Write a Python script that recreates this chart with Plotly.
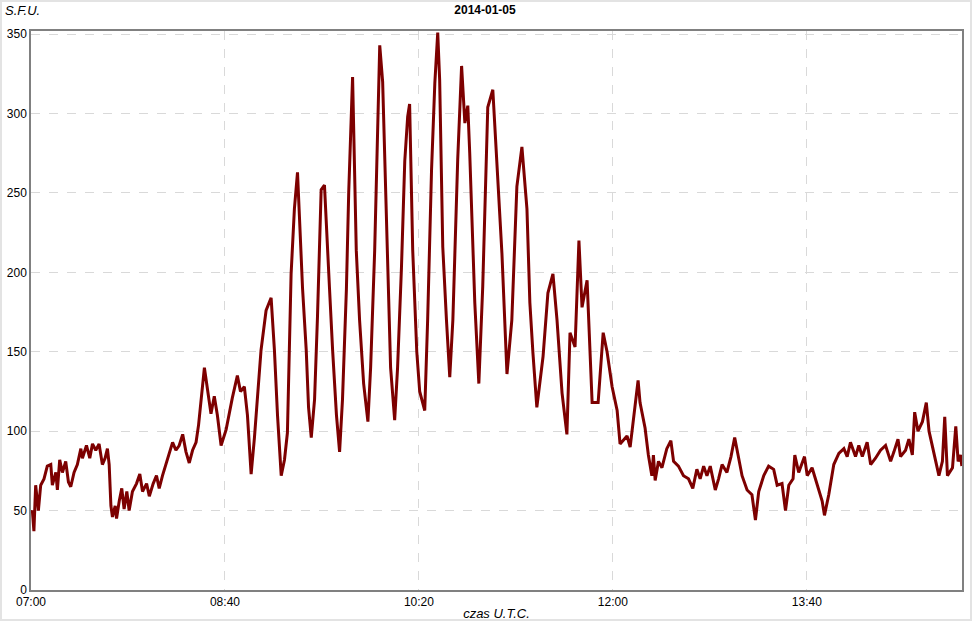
import plotly.graph_objects as go

# minutes after 07:00 UTC and flux in S.F.U.
minutes = [0.0, 0.7, 1.5, 2.4, 3.8, 5.0, 6.7, 8.4, 10.2, 11.0, 12.8, 13.6, 14.8, 16.2, 17.9, 19.3, 20.5,
           22.2, 23.9, 25.7, 26.5, 28.6, 30.3, 31.7, 33.4, 35.1, 36.8, 38.2, 39.4, 40.3, 41.2, 42.0, 43.4,
           44.1, 45.5, 46.8, 48.0, 49.4, 50.6, 52.3, 54.4, 56.1, 57.5, 59.6, 61.0, 63.0, 64.7, 66.1, 67.8,
           69.6, 71.3, 73.0, 74.7, 76.4, 78.2, 79.9, 81.6, 83.3, 85.1, 86.4,
           89.4, 90.9, 92.8, 94.5, 96.1, 98.0, 100.6, 103.8, 106.4, 108.0, 110.0, 111.6, 113.5, 115.2, 118.6,
           121.2, 123.8, 125.5, 127.1, 129.0, 130.7, 132.2, 134.1, 135.8, 137.4, 138.4, 140.0, 141.9, 143.1,
           144.5, 146.2, 147.7, 149.6, 151.3, 152.2, 153.9, 155.5, 157.5, 159.1, 160.6, 162.6, 163.8, 165.8,
           167.7, 169.4, 171.5, 173.7, 175.1, 177.2, 178.7, 179.8, 181.3, 183.4, 185.4, 187.5, 189.0, 191.0,
           192.7, 194.2, 195.2, 196.8, 198.9, 200.4, 203.0, 204.5, 206.5, 208.2, 209.7, 210.7, 212.3, 214.2,
           215.9, 217.5, 220.0, 222.0, 223.7, 225.2, 226.2, 228.8, 230.9, 232.9, 235.5, 238.1, 240.2, 242.8,
           245.4, 247.9, 250.5, 253.1, 255.7, 257.2, 258.8, 260.8, 264.0, 266.5, 269.1, 271.2, 273.8, 276.3,
           277.9, 280.5, 282.5, 284.1, 286.7, 289.3, 292.4, 295.0, 297.0, 299.6, 302.2, 303.7, 307.3, 308.9,
           313.0,
           314.0, 316.6, 318.3, 320.1, 320.9, 321.8, 323.5, 325.3, 327.8, 329.9, 331.3, 333.8, 336.4, 339.0,
           341.2, 343.3, 345.0, 346.8, 348.5, 350.2, 352.8, 354.5, 356.3, 358.8, 360.9, 362.8, 364.3, 366.6,
           369.2, 371.7, 373.5, 375.2, 377.8, 380.3, 382.9, 384.7, 387.2, 389.0, 390.7, 392.9, 393.8, 395.8,
           398.8, 400.2, 402.7, 405.3, 407.9, 409.1, 411.3, 413.9, 416.5, 419.1, 420.8, 422.5, 425.1, 426.8,
           428.6, 431.1, 432.9, 435.4, 438.0, 440.6, 443.2, 444.9, 447.0, 448.3, 450.9, 452.6, 454.4, 455.6,
           457.3, 459.6, 461.6, 463.0, 465.6, 468.1, 469.9, 471.1, 472.5, 475.1, 476.8, 478.0, 479.3, 479.9]

sfu = [48, 50, 37, 66, 50, 66, 70, 78, 79, 66, 74, 63, 82, 74, 81, 68, 65,
       74, 79, 89, 83, 91, 83, 92, 88, 92, 79, 83, 89, 79, 53, 46, 53,
       45, 56, 64, 51, 62, 50, 62, 67, 73, 62, 67, 59, 67, 72, 64, 72,
       79, 85, 93, 88, 91, 98, 87, 80, 88, 93, 104,
       140, 128, 111, 122, 110, 91, 101, 121, 135, 125, 128, 110, 73, 96, 151,
       176, 184, 151, 110, 72, 82, 99, 199, 240, 263, 235, 190, 151, 115,
       96, 120, 172, 252, 255, 235, 190, 151, 110, 87, 120, 189, 250, 323,
       214, 170, 130, 106, 140, 214, 300, 343, 320, 220, 140, 107, 140, 203,
       270, 298, 306, 214, 150, 125, 113, 170, 264, 319, 351, 321, 216, 170,
       134, 170, 271, 330, 294, 305, 275, 181, 130, 191, 304, 315, 271, 212,
       136, 170, 254, 279, 240, 181, 149, 115, 147, 187, 199, 170, 124, 98,
       162, 153, 220, 178, 195, 118, 118, 162, 150, 128, 113, 92, 97, 90,
       132,
       118, 102, 85, 72, 85, 69, 81, 77, 89, 94, 81, 78, 72, 70,
       64, 76, 70, 78, 72, 78, 63, 70, 79, 74, 84, 96, 86, 72,
       63, 60, 44, 62, 72, 78, 76, 66, 67, 50, 66, 70, 85, 74,
       84, 72, 77, 66, 56, 47, 60, 79, 86, 89, 84, 93, 84, 91,
       84, 93, 79, 83, 88, 91, 81, 87, 95, 84, 88, 95, 85, 112,
       100, 106, 118, 100, 85, 72, 81, 109, 72, 77, 103, 81, 85, 78]

tick_minutes = [0, 100, 200, 300, 400]
tick_labels = ["07:00", "08:40", "10:20", "12:00", "13:40"]
y_ticks = [0, 50, 100, 150, 200, 250, 300, 350]

fig = go.Figure()
fig.add_trace(go.Scatter(x=minutes, y=sfu, mode="lines",
                         line=dict(color="#7d0000", width=3), hoverinfo="skip"))

W, H = 972, 621
ml, mr, mt, mb = 31, 10, 31, 31
pw, ph = W - ml - mr, H - mt - mb

fig.update_layout(
    width=W, height=H,
    margin=dict(l=ml, r=mr, t=mt, b=mb, pad=0, autoexpand=False),
    paper_bgcolor="white", plot_bgcolor="white",
    showlegend=False,
    font=dict(family="Liberation Sans, Arial", size=12, color="black"),
    title=dict(text="<b>2014-01-05</b>", x=485 / W, xanchor="center", y=1 - 10 / H, yanchor="middle",
               yref="container", automargin=False,
               font=dict(size=12, family="Liberation Sans, Arial", color="black")),
    xaxis=dict(range=[0, 480], tickvals=tick_minutes, ticktext=tick_labels, automargin=False,
               showgrid=True, gridcolor="#d9d9d9", griddash="dash", gridwidth=1,
               showline=True, linecolor="#808080", linewidth=1.5, mirror=True,
               ticks="", zeroline=False, tickfont=dict(size=12),
               title=dict(text="<i>czas U.T.C.</i>", standoff=2, font=dict(size=13))),
    yaxis=dict(range=[0, 352], tickvals=y_ticks, automargin=False,
               showgrid=True, gridcolor="#d9d9d9", griddash="dash", gridwidth=1,
               showline=True, linecolor="#808080", linewidth=1.5, mirror=True,
               ticks="", zeroline=False, tickfont=dict(size=12)),
    shapes=[dict(type="rect", xref="paper", yref="paper",
                 x0=-ml / pw, x1=1 + mr / pw, y0=-mb / ph, y1=1 + mt / ph,
                 line=dict(color="#e3e3e3", width=4), fillcolor="rgba(0,0,0,0)", layer="above")],
    annotations=[dict(text="<i>S.F.U.</i>", xref="paper", yref="paper",
                      x=-ml / pw + 3 / pw, y=1 + (mt - 10) / ph, xanchor="left", yanchor="middle",
                      showarrow=False, font=dict(size=13, color="black"))],
)

fig.write_html("out.html", config={"displayModeBar": False},
               post_script="document.body.style.margin='0';document.body.style.overflow='hidden';")
